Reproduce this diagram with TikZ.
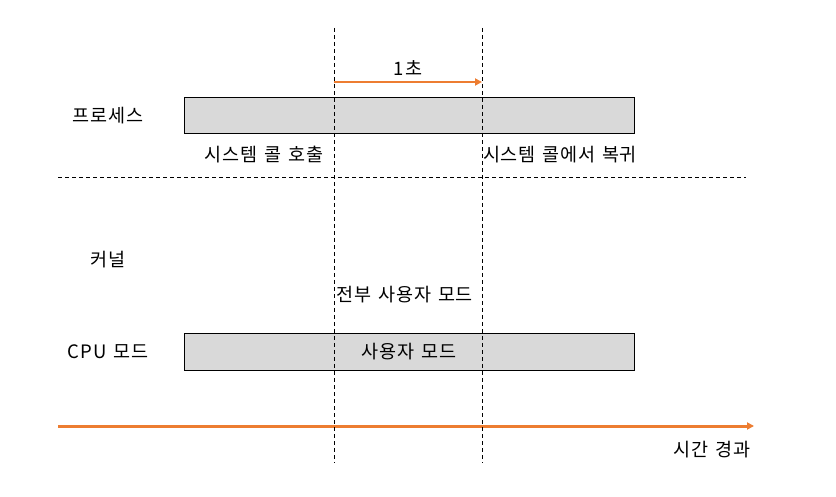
\documentclass[tikz,border=0pt]{standalone}
\usepackage{fontspec}
\setmainfont{Noto Sans CJK KR}[LetterSpace=5,WordSpace=1.3]
\usetikzlibrary{arrows.meta,positioning}
\definecolor{timeOrange}{HTML}{ED7D31}
\definecolor{barGray}{HTML}{D9D9D9}
\begin{document}
\begin{tikzpicture}[x=1pt,y=-1pt,>=Latex,line cap=butt]
\path[fill=white] (0,0) rectangle (836,497);
\tikzset{bar/.style={draw=black,fill=barGray,line width=1pt,minimum width=450pt,minimum height=36pt,inner sep=0pt},guide/.style={draw=black,dash pattern=on 4pt off 3pt,line width=0.9pt},flow/.style={draw=timeOrange,line width=2pt,-{Triangle[length=7pt,width=7pt]}},lbl/.style={font=\fontsize{18.5}{20}\selectfont,text=black,inner sep=0pt}}
% bars
\node[bar] (procBar) at (409,116) {};
\node[bar,lbl] (cpuBar) at (409,352) {사용자 모드};
% row labels
\node[lbl] (procLbl) at (108,116) {프로세스};
\node[lbl] (kernLbl) at (108,260) {커널};
\node[lbl] (cpuLbl) at (108,352) {CPU 모드};
\node[lbl] (callLbl) at (264,155) {시스템 콜 호출};
\node[lbl] (retLbl) at (560,155) {시스템 콜에서 복귀};
\node[lbl] (allUser) at (405,295) {전부 사용자 모드};
% one second
\coordinate (secA) at (334,82);
\coordinate (secB) at (482,82);
\draw[flow] (secA) -- (secB);
\node[lbl] (secLbl) at (408,68) {1초};
% time axis
\coordinate (timeA) at (58,426);
\coordinate (timeB) at (754,426);
\draw[flow,line width=3pt] (timeA) -- (timeB);
\node[lbl] (timeLbl) at (712,450) {시간 경과};
% guides
\coordinate (sepA) at (58,177);
\coordinate (sepB) at (746,177);
\draw[guide] (sepA) -- (sepB);
\coordinate (callTop) at (334,28);
\coordinate (callBot) at (334,463);
\coordinate (retTop) at (482,28);
\coordinate (retBot) at (482,463);
\draw[guide] (callTop) -- (callBot);
\draw[guide] (retTop) -- (retBot);
\end{tikzpicture}
\end{document}
